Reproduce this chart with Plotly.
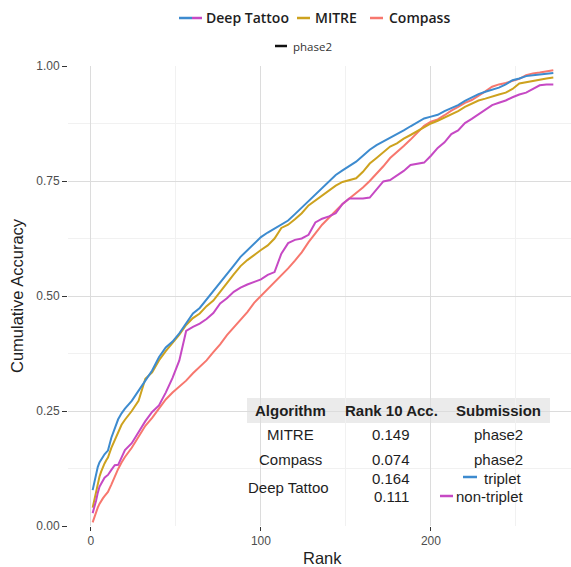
import plotly.graph_objects as go

# Rank positions sampled along the cumulative match curves
ranks = [1, 2, 3, 4, 5, 6, 7, 8,
         9, 10, 12, 14, 16, 18, 20, 24,
         28, 32, 36, 40, 44, 48, 52, 56,
         60, 64, 68, 72, 76, 80, 84, 88,
         92, 96, 100, 104, 108, 112, 116, 120,
         124, 128, 132, 136, 140, 144, 148, 152,
         156, 160, 164, 168, 172, 176, 180, 184,
         188, 192, 196, 200, 204, 208, 212, 216,
         220, 224, 228, 232, 236, 240, 244, 248,
         252, 256, 260, 264, 268, 272]

deep_tattoo_triplet = [.078, .097, .113, .128, .138, .145, .151, .156,
                       .160, .164, .192, .214, .232, .245, .255, .272,
                       .293, .316, .338, .367, .388, .401, .419, .441,
                       .462, .474, .492, .510, .528, .546, .566, .585,
                       .600, .615, .628, .638, .647, .656, .664, .678,
                       .692, .706, .720, .736, .750, .763, .773, .782,
                       .792, .805, .818, .828, .836, .843, .851, .860,
                       .869, .878, .886, .890, .894, .902, .908, .915,
                       .924, .932, .939, .944, .948, .953, .960, .969,
                       .973, .978, .980, .982, .984, .985]

mitre = [.040, .058, .076, .094, .107, .118, .128, .136,
         .143, .149, .170, .188, .206, .220, .231, .250,
         .272, .320, .334, .360, .380, .397, .416, .437,
         .452, .462, .478, .490, .510, .528, .547, .565,
         .578, .590, .600, .610, .625, .648, .655, .667,
         .680, .697, .708, .718, .728, .740, .748, .752,
         .756, .770, .788, .800, .812, .825, .832, .842,
         .850, .858, .866, .875, .881, .888, .895, .902,
         .911, .918, .925, .929, .934, .938, .942, .950,
         .962, .965, .967, .970, .973, .975]

compass = [.008, .020, .030, .040, .048, .055, .060, .065,
           .070, .074, .090, .108, .124, .138, .150, .170,
           .195, .218, .235, .255, .275, .290, .302, .316,
           .332, .346, .360, .378, .395, .415, .432, .448,
           .465, .485, .500, .513, .528, .545, .560, .577,
           .595, .617, .636, .655, .670, .686, .700, .712,
           .723, .736, .750, .765, .782, .800, .812, .826,
           .840, .856, .870, .879, .884, .893, .903, .911,
           .920, .926, .935, .945, .955, .960, .963, .967,
           .972, .980, .984, .986, .989, .991]

deep_tattoo_non_triplet = [.028, .040, .055, .072, .085, .092, .100, .105,
                           .108, .111, .122, .132, .133, .148, .165, .180,
                           .205, .228, .248, .262, .290, .322, .360, .424,
                           .433, .440, .450, .463, .484, .495, .509, .518,
                           .525, .530, .536, .546, .552, .592, .615, .622,
                           .625, .633, .660, .668, .673, .680, .700, .712,
                           .712, .712, .714, .732, .749, .752, .762, .772,
                           .785, .787, .790, .805, .822, .834, .852, .860,
                           .876, .885, .895, .905, .915, .920, .925, .932,
                           .938, .942, .950, .958, .960, .960]

# Summary table contents
table_header = ["Algorithm", "Rank 10 Acc.", "Submission"]
table_rows = [["MITRE", "0.149", "phase2"],
              ["Compass", "0.074", "phase2"]]
deep_tattoo_acc = ["0.164", "0.111"]
deep_tattoo_subs = ["triplet", "non-triplet"]

legend_names = ["Deep Tattoo", "MITRE", "Compass"]
submission_name = "phase2"

x_ticks = [0, 100, 200]
y_ticks = [0, 0.25, 0.5, 0.75, 1.0]
y_ticklabels = ["0.00", "0.25", "0.50", "0.75", "1.00"]

BLUE = "#3D8BCF"
GOLD = "#CDA21E"
SALMON = "#F7776E"
MAGENTA = "#C649C4"

W, H = 571, 567
ML, MR, MT, MB = 68, 0, 66, 41
PW, PH = W - ML - MR, H - MT - MB


def px(x):
    return (x - ML) / PW


def py(y):
    return (H - MB - y) / PH


fig = go.Figure()
series = [(compass, SALMON), (mitre, GOLD),
          (deep_tattoo_non_triplet, MAGENTA), (deep_tattoo_triplet, BLUE)]
for vals, col in series:
    fig.add_trace(go.Scatter(x=ranks, y=vals, mode="lines",
                             line=dict(color=col, width=2),
                             showlegend=False, hoverinfo="skip"))

shapes = []
ann = []
TXT = "#1E1E1E"

# legend drawn by hand (Deep Tattoo key uses a two-colour segment)
LEG_FONT = dict(family="Open Sans", size=14, color=TXT, weight=600)
ly = 18
shapes += [
    dict(type="line", xref="paper", yref="paper", x0=px(179), x1=px(192), y0=py(ly), y1=py(ly),
         line=dict(color=BLUE, width=2.5)),
    dict(type="line", xref="paper", yref="paper", x0=px(192), x1=px(202), y0=py(ly), y1=py(ly),
         line=dict(color=MAGENTA, width=2.5)),
    dict(type="line", xref="paper", yref="paper", x0=px(297), x1=px(310), y0=py(ly), y1=py(ly),
         line=dict(color=GOLD, width=2.5)),
    dict(type="line", xref="paper", yref="paper", x0=px(370), x1=px(383), y0=py(ly), y1=py(ly),
         line=dict(color=SALMON, width=2.5)),
    dict(type="line", xref="paper", yref="paper", x0=px(275), x1=px(287), y0=py(46), y1=py(46),
         line=dict(color="#111111", width=2.5)),
]
for name, x0 in zip(legend_names, [204, 313, 387]):
    ann.append(dict(x=px(x0), y=py(ly), xref="paper", yref="paper", text=name,
                    showarrow=False, xanchor="left", yanchor="middle", font=LEG_FONT))
ann.append(dict(x=px(291), y=py(46), xref="paper", yref="paper", text=submission_name,
                showarrow=False, xanchor="left", yanchor="middle",
                font=dict(family="Open Sans", size=11.5, color="#333333")))

# summary table
shapes.append(dict(type="rect", xref="paper", yref="paper", layer="between",
                   x0=px(247), x1=px(550), y0=py(423), y1=py(398),
                   fillcolor="#EBEBEB", line=dict(width=0)))
HEAD_FONT = dict(family="Liberation Sans", size=15, color=TXT, weight="bold")
BODY_FONT = dict(family="Liberation Sans", size=15, color=TXT)
col_x = [290, 391, 498]
for text, cx in zip(table_header, col_x):
    ann.append(dict(x=px(cx), y=py(410.5), xref="paper", yref="paper", text=text,
                    showarrow=False, xanchor="center", yanchor="middle", font=HEAD_FONT))
for row, ry in zip(table_rows, [434, 459]):
    for text, cx in zip(row, col_x):
        ann.append(dict(x=px(cx), y=py(ry), xref="paper", yref="paper", text=text,
                        showarrow=False, xanchor="center", yanchor="middle", font=BODY_FONT))
ann.append(dict(x=px(288), y=py(487), xref="paper", yref="paper", text="Deep Tattoo",
                showarrow=False, xanchor="center", yanchor="middle", font=BODY_FONT))
for text, ry in zip(deep_tattoo_acc, [478, 496]):
    ann.append(dict(x=px(391), y=py(ry), xref="paper", yref="paper", text=text,
                    showarrow=False, xanchor="center", yanchor="middle", font=BODY_FONT))
ann.append(dict(x=px(482), y=py(478), xref="paper", yref="paper", text=deep_tattoo_subs[0],
                showarrow=False, xanchor="left", yanchor="middle", font=BODY_FONT))
ann.append(dict(x=px(454), y=py(496), xref="paper", yref="paper", text=deep_tattoo_subs[1],
                showarrow=False, xanchor="left", yanchor="middle", font=BODY_FONT))
shapes += [
    dict(type="line", xref="paper", yref="paper", x0=px(463), x1=px(477), y0=py(477), y1=py(477),
         line=dict(color=BLUE, width=2.5)),
    dict(type="line", xref="paper", yref="paper", x0=px(440), x1=px(453), y0=py(496), y1=py(496),
         line=dict(color=MAGENTA, width=2.5)),
]

# axis titles
ann.append(dict(x=px(322), y=py(558), xref="paper", yref="paper", text="Rank",
                showarrow=False, xanchor="center", yanchor="middle",
                font=dict(family="Liberation Sans", size=16.5, color=TXT)))
ann.append(dict(x=px(17), y=py(296), xref="paper", yref="paper", text="Cumulative Accuracy",
                showarrow=False, xanchor="center", yanchor="middle", textangle=-90,
                font=dict(family="Liberation Sans", size=16.5, color=TXT)))

TICK_FONT = dict(family="Liberation Sans", size=12, color="#4D4D4D")
fig.update_layout(
    width=W, height=H,
    margin=dict(l=ML, r=MR, t=MT, b=MB),
    paper_bgcolor="white", plot_bgcolor="white",
    shapes=shapes, annotations=ann,
    xaxis=dict(range=[-13.5, 282.4], tickvals=x_ticks, ticks="outside", ticklen=4,
               tickcolor="#333333", tickfont=TICK_FONT, showgrid=True, gridcolor="#DCDCDC",
               gridwidth=1, zeroline=False, showline=False,
               minor=dict(tickvals=[50, 150, 250], showgrid=True, gridcolor="#F1F1F1",
                          gridwidth=1, ticks="")),
    yaxis=dict(range=[0, 1], tickvals=y_ticks, ticktext=y_ticklabels, ticks="outside",
               ticklen=5, tickcolor="#333333", tickfont=TICK_FONT, showgrid=True,
               gridcolor="#DCDCDC", gridwidth=1, zeroline=False, showline=False,
               minor=dict(tickvals=[0.125, 0.375, 0.625, 0.875], showgrid=True,
                          gridcolor="#F1F1F1", gridwidth=1, ticks="")),
)

fig.write_html("out.html")
